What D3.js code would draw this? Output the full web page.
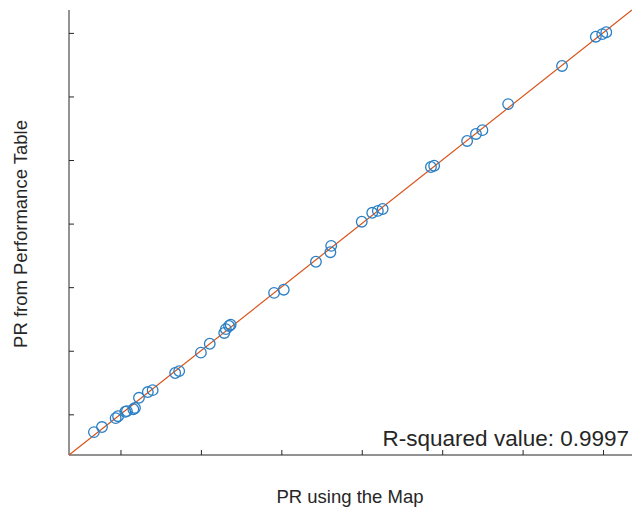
<!DOCTYPE html>
<html>
<head>
<meta charset="utf-8">
<script src="https://cdn.jsdelivr.net/npm/d3@7"></script>
<style>
  body { margin: 0; background: #fff; }
  text { font-family: "Liberation Sans", Arial, sans-serif; fill: #262626; }
</style>
</head>
<body>
<div id="chart"></div>
<script>
// PR using the map vs PR from the performance table
var prMap = [0.067, 0.077, 0.094, 0.097, 0.106, 0.108, 0.116, 0.118, 0.123, 0.134,
             0.140, 0.168, 0.173, 0.200, 0.211, 0.229, 0.231, 0.235, 0.237, 0.291,
             0.303, 0.343, 0.361, 0.362, 0.400, 0.413, 0.420, 0.426, 0.486, 0.490,
             0.531, 0.542, 0.550, 0.582, 0.649, 0.691, 0.699, 0.704];
var prTable = [0.072, 0.080, 0.094, 0.097, 0.104, 0.105, 0.108, 0.110, 0.126, 0.135,
               0.138, 0.165, 0.168, 0.197, 0.211, 0.228, 0.234, 0.239, 0.241, 0.291,
               0.296, 0.340, 0.355, 0.365, 0.403, 0.417, 0.420, 0.423, 0.489, 0.491,
               0.530, 0.541, 0.547, 0.588, 0.648, 0.694, 0.698, 0.701];
var tickValues = [0.1, 0.2, 0.3, 0.4, 0.5, 0.6, 0.7];
var axisRange = [0.036, 0.736];
var rSquared = "0.9997";

var width = 632, height = 517;
var margin = {top: 10, right: 0, bottom: 62, left: 69};

var svg = d3.select("#chart").append("svg")
    .attr("width", width)
    .attr("height", height);

var x = d3.scaleLinear().domain(axisRange).range([margin.left, width - margin.right]);
var y = d3.scaleLinear().domain(axisRange).range([height - margin.bottom, margin.top]);

// axes, ticks pointing inward, no labels
svg.append("g")
    .attr("transform", "translate(0," + (height - margin.bottom) + ")")
    .call(d3.axisBottom(x).tickValues(tickValues).tickSize(-5).tickFormat(""))
    .call(function(g) {
      g.select(".domain").attr("stroke", "#262626").attr("d", "M" + margin.left + ",0H" + width);
      g.selectAll(".tick line").attr("stroke", "#262626");
    });

svg.append("g")
    .attr("transform", "translate(" + margin.left + ",0)")
    .call(d3.axisLeft(y).tickValues(tickValues).tickSize(-5).tickFormat(""))
    .call(function(g) {
      g.select(".domain").attr("stroke", "#262626")
        .attr("d", "M0," + margin.top + "V" + (height - margin.bottom));
      g.selectAll(".tick line").attr("stroke", "#262626");
    });

// identity line
svg.append("line")
    .attr("x1", x(axisRange[0])).attr("y1", y(axisRange[0]))
    .attr("x2", x(axisRange[1])).attr("y2", y(axisRange[1]))
    .attr("stroke", "#D95319")
    .attr("stroke-width", 1.2);

// points
svg.append("g").selectAll("circle")
    .data(prMap)
    .enter().append("circle")
    .attr("cx", function(d) { return x(d); })
    .attr("cy", function(d, i) { return y(prTable[i]); })
    .attr("r", 5.3)
    .attr("fill", "none")
    .attr("stroke", "#2A7FC4")
    .attr("stroke-width", 1.3);

svg.append("text")
    .attr("x", 629)
    .attr("y", 446)
    .attr("text-anchor", "end")
    .style("font-size", "22.5px")
    .text("R-squared value: " + rSquared);

svg.append("text")
    .attr("x", 350)
    .attr("y", 503)
    .attr("text-anchor", "middle")
    .style("font-size", "18.5px")
    .text("PR using the Map");

svg.append("text")
    .attr("transform", "translate(27,234) rotate(-90)")
    .attr("text-anchor", "middle")
    .style("font-size", "18.5px")
    .text("PR from Performance Table");
</script>
</body>
</html>
